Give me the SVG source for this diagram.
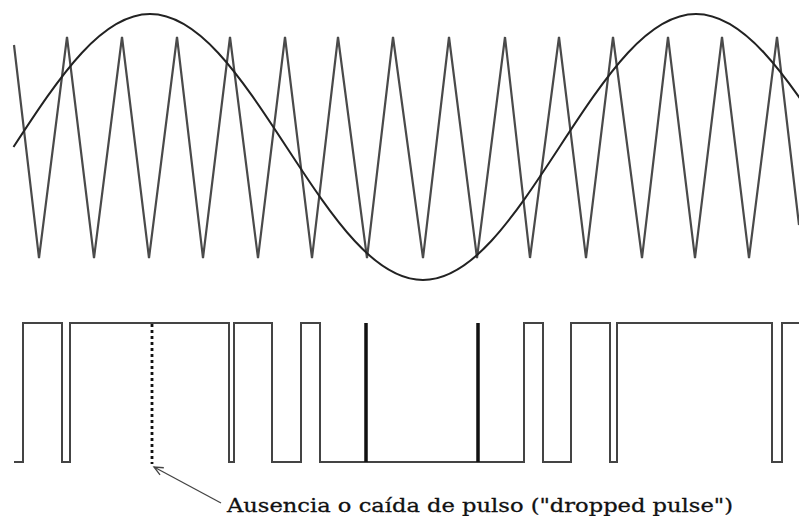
<svg xmlns="http://www.w3.org/2000/svg" width="799" height="516" viewBox="0 0 799 516">
<style>
.wave{fill:none;stroke-linejoin:miter}
.carrier{stroke:#4a4a4a;stroke-width:2.2}
.sine{stroke:#222;stroke-width:2}
.pulse{fill:none;stroke:#444;stroke-width:2}
.thick{stroke:#111;stroke-width:3.5}
.dropped{stroke:#111;stroke-width:2.8;stroke-dasharray:3 3}
.lbl{font-family:"DejaVu Serif","Liberation Serif",serif;font-size:19px;fill:#111;stroke:#111;stroke-width:0.3}
.arrow{fill:none;stroke:#444;stroke-width:1.3}
</style>
<defs>
<marker id="ah" markerWidth="12" markerHeight="12" refX="10" refY="5" orient="auto" markerUnits="userSpaceOnUse">
<path d="M1,1 L10,5 L1,9" fill="none" stroke="#444" stroke-width="1.3"/>
</marker>
</defs>
<rect width="799" height="516" fill="#fff"/>
<g id="carrier">
<polyline class="wave carrier" points="14,45 39,258 67,37 94,258 122,37 149,258 177,37 203,258 230,37 258,258 285,37 312,258 338,37 367,258 393,37 423,258 449,37 477,258 505,37 530,258 559,37 586,258 613,37 642,258 668,37 695,258 722,37 749,258 777,37 799,225"/>
</g>
<g id="modulating">
<path class="wave sine" d="M13.5,147 C36.25,112.18 59,77.57 81.75,52.95 C104.5,28.330 127.25,14 150,14 C172.75,14 195.5,28.33 218.25,52.95 C241,77.57 263.75,112.18 286.5,147 C309.25,181.82 332,216.43 354.75,241.05 C377.5,265.67 400.25,280 423,280 C445.75,280 468.5,265.67 491.25,241.05 C514,216.43 536.75,181.82 559.5,147 C582.25,112.18 605,77.57 627.75,52.95 C650.5,28.33 673.25,14 696,14 C718.75,14 741.5,28.33 764.25,52.95 C787,77.57 809.75,112.18 832.5,147"/>
</g>
<g id="pwm">
<path class="pulse" d="M14,462 H23 V323 H62 V462 H70 V323 H229 V462 H234 V323 H272 V462 H301 V323 H320 V462 H524 V323 H543 V462 H571 V323 H610 V462 H617 V323 H772 V462 H782 V323 H799"/>
<line class="thick" x1="366" y1="323" x2="366" y2="462"/>
<line class="thick" x1="478" y1="323" x2="478" y2="462"/>
<line class="dropped" x1="152" y1="324" x2="152" y2="464"/>
</g>
<g id="connectors">
<path class="arrow" d="M221,503 L154,467" marker-end="url(#ah)"/>
</g>
<g id="label">
<text class="lbl" x="227" y="512" textLength="506" lengthAdjust="spacingAndGlyphs">Ausencia o caída de pulso ("dropped pulse")</text>
</g>
</svg>
